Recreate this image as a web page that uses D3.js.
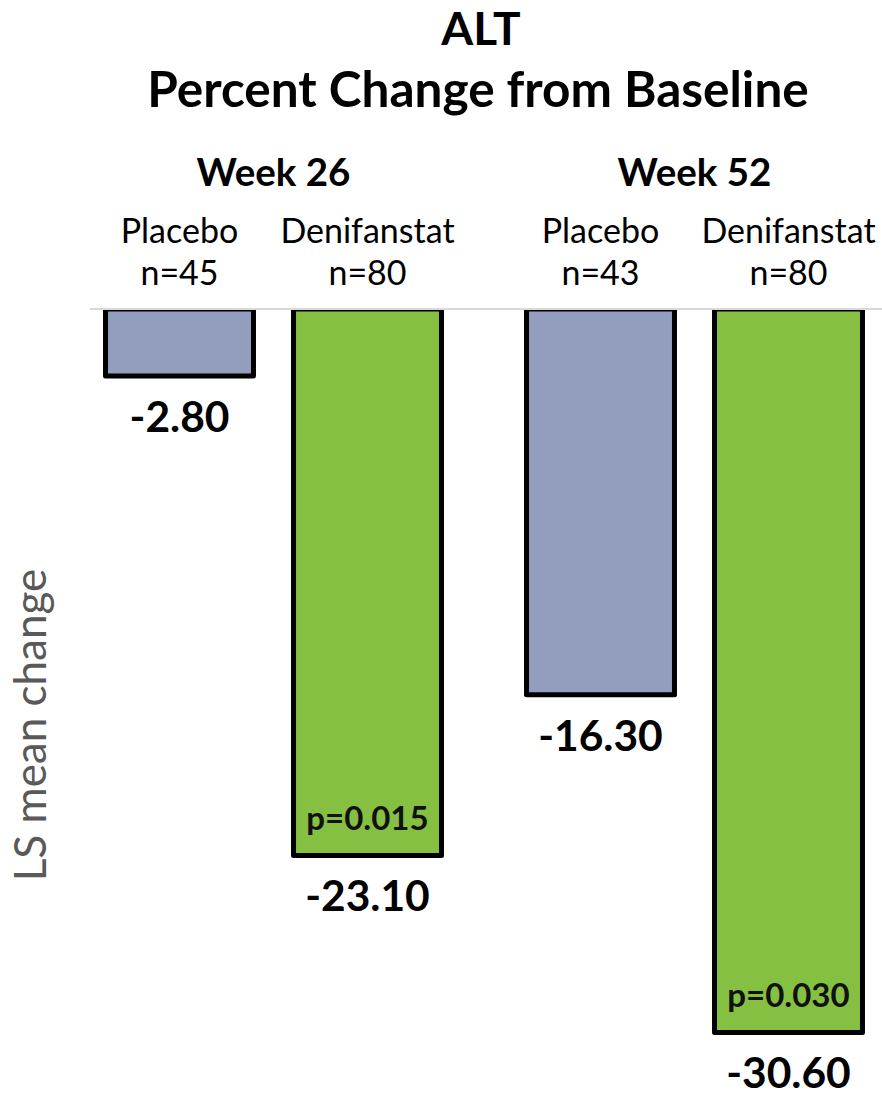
<!DOCTYPE html>
<html>
<head>
<meta charset="utf-8">
<script src="https://cdn.jsdelivr.net/npm/d3@7/dist/d3.min.js"></script>
<style>
  html, body { margin: 0; padding: 0; background: #fff; }
  svg { display: block; font-family: Lato, "Open Sans", sans-serif; }
</style>
</head>
<body>
<svg id="chart" width="882" height="1096"></svg>
<script>
// ALT percent change from baseline, LS mean change by visit and arm
const weeks = ["Week 26", "Week 52"];
const arms = ["Placebo", "Denifanstat"];
const nCounts = [[45, 80], [43, 80]];
const lsMeanChange = [[-2.80, -23.10], [-16.30, -30.60]];
const pValues = [[null, "p=0.015"], [null, "p=0.030"]];
const armColors = ["#939DBD", "#86C042"];

const rows = [];
weeks.forEach((w, i) => arms.forEach((a, j) => rows.push({
  week: w, arm: a, n: nCounts[i][j], value: lsMeanChange[i][j], p: pValues[i][j], color: armColors[j]
})));

const svg = d3.select("#chart");
const W = 882;

const x0 = d3.scaleBand().domain(weeks).range([63, 905]).padding(0);
const x1 = d3.scaleBand().domain(arms).range([22.5, 398.5]).paddingInner(0.213).paddingOuter(0.1065);
const y = d3.scaleLinear().domain([0, -35]).range([310, 310 + 35 * 23.61]);

const cx = d => x0(d.week) + x1(d.arm) + x1.bandwidth() / 2;

// title
svg.append("text").attr("x", 481).attr("y", 45).attr("text-anchor", "middle")
  .attr("font-size", 46).attr("font-weight", 700).text("ALT");
svg.append("text").attr("x", 478).attr("y", 107).attr("text-anchor", "middle")
  .attr("font-size", 49.5).attr("font-weight", 700).text("Percent Change from Baseline");

// week headers
svg.selectAll(".week").data(weeks).join("text")
  .attr("x", d => x0(d) + x0.bandwidth() / 2).attr("y", 186)
  .attr("text-anchor", "middle").attr("font-size", 38.5).attr("font-weight", 700).text(d => d);

// arm + n headers
const heads = svg.selectAll(".head").data(rows).join("g");
heads.append("text").attr("x", cx).attr("y", 243).attr("text-anchor", "middle")
  .attr("font-size", 34).text(d => d.arm);
heads.append("text").attr("x", cx).attr("y", 285).attr("text-anchor", "middle")
  .attr("font-size", 34).text(d => "n=" + d.n);

// zero line
svg.append("line").attr("x1", 90).attr("x2", W).attr("y1", y(0) - 1).attr("y2", y(0) - 1)
  .attr("stroke", "#d9d9d9").attr("stroke-width", 2);

// bars, clipped at the zero line so the top border sits flush
svg.append("defs").append("clipPath").attr("id", "belowZero")
  .append("rect").attr("x", 0).attr("y", y(0)).attr("width", W).attr("height", 1096);

const barW = x1.bandwidth();
svg.append("g").attr("clip-path", "url(#belowZero)")
  .selectAll("rect").data(rows).join("rect")
  .attr("x", d => cx(d) - barW / 2)
  .attr("y", y(0) - 1)
  .attr("width", barW)
  .attr("height", d => y(d.value) - y(0) + 1)
  .attr("fill", d => d.color)
  .attr("stroke", "#000").attr("stroke-width", 5).attr("stroke-linejoin", "round");

// value labels
svg.selectAll(".val").data(rows).join("text")
  .attr("x", cx).attr("y", d => y(d.value) + 56)
  .attr("text-anchor", "middle").attr("font-size", 42.5).attr("font-weight", 700)
  .text(d => d.value.toFixed(2));

// p-values inside bars
svg.selectAll(".pv").data(rows.filter(d => d.p)).join("text")
  .attr("x", cx).attr("y", d => y(d.value) - 25)
  .attr("text-anchor", "middle").attr("font-size", 33).attr("font-weight", 700)
  .attr("fill", "#111").text(d => d.p);

// y-axis title
svg.append("text").attr("transform", "translate(46,725) rotate(-90)")
  .attr("text-anchor", "middle").attr("font-size", 44).attr("fill", "#595959")
  .text("LS mean change");
</script>
</body>
</html>
